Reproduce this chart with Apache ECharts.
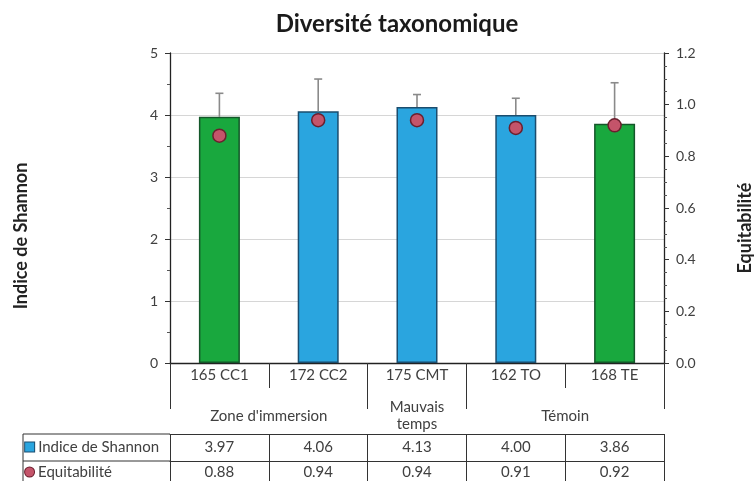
<!DOCTYPE html>
<html>
<head>
<meta charset="utf-8">
<script src="https://cdn.jsdelivr.net/npm/echarts@6/dist/echarts.min.js"></script>
<style>
  html, body { margin: 0; padding: 0; background: #fff; }
  #chart { width: 754px; height: 481px; }
</style>
</head>
<body>
<div id="chart"></div>
<script>
// Stations, grouped by sampling zone
const categories = ['165 CC1', '172 CC2', '175 CMT', '162 TO', '168 TE'];
const shannon = [3.97, 4.06, 4.13, 4.00, 3.86];
const shannonSD = [0.38, 0.52, 0.20, 0.27, 0.66];
const equitability = [0.88, 0.94, 0.94, 0.91, 0.92];
// Groups: label and the span of stations they cover [first, last]
const groupLabels = ["Zone d'immersion", 'Mauvais\ntemps', 'Témoin'];
const groupSpans = [[0, 1], [2, 2], [3, 4]];
const shannonTicks = [0, 1, 2, 3, 4, 5];
const equitTicks = [0, 0.2, 0.4, 0.6, 0.8, 1.0, 1.2];

const FONT = 'Lato, "Open Sans", sans-serif';
const TXT = '#404040';
const GREEN = { fill: '#19a83e', border: '#14572a' };
const BLUE = { fill: '#2aa5df', border: '#1b4d6e' };
const DOT = { fill: '#c4546a', border: '#6b1f2e' };
const controlStations = new Set(['165 CC1', '168 TE']);

// group centres and group boundaries in station units (0..n)
const groupCenters = groupSpans.map(s => (s[0] + s[1] + 1) / 2);
const boundSet = Array.from(new Set(groupSpans.flatMap(s => [s[0], s[1] + 1])));

const chart = echarts.init(document.getElementById('chart'), null, { renderer: 'canvas' });

const G = { left: 170, right: 90, top: 53, bottom: 118, containLabel: false, outerBoundsMode: 'none' };
const plotBottom = 481 - G.bottom; // 363

// row headers of the data table: legend key + label, left-aligned in the header column
const HEADER_W = 128;
const measureCtx = document.createElement('canvas').getContext('2d');
measureCtx.font = '15px ' + FONT;
function rowHeader(key, text) {
  const pad = Math.max(0, Math.round(HEADER_W - measureCtx.measureText(text).width));
  return { text: '{' + key + '|}{s|}{t|' + text + '}{p|}', pad };
}
function headerRich(pad) {
  return {
    box: { width: 9, height: 9, backgroundColor: BLUE.fill, borderColor: BLUE.border, borderWidth: 1 },
    dot: { width: 9, height: 9, borderRadius: 5, backgroundColor: DOT.fill, borderColor: DOT.border, borderWidth: 1 },
    s: { width: 4 },
    t: { fontSize: 15, color: TXT, fontFamily: FONT },
    p: { width: pad }
  };
}
const hdrShannon = rowHeader('box', 'Indice de Shannon');
const hdrEquit = rowHeader('dot', 'Equitabilité');

const option = {
  animation: false,
  backgroundColor: '#fff',
  textStyle: { fontFamily: FONT },
  title: {
    text: 'Diversité taxonomique',
    left: 392, top: 7, textAlign: 'center',
    textStyle: { fontFamily: FONT, fontSize: 24, fontWeight: 'bold', color: '#1a1a1a' }
  },
  grid: G,
  xAxis: [
    {
      type: 'category', data: categories, position: 'bottom',
      axisLine: { show: true, lineStyle: { color: '#222', width: 1.3 } },
      axisTick: { show: true, length: 25, lineStyle: { color: '#333' } },
      axisLabel: { color: TXT, fontSize: 15, margin: 12, verticalAlign: 'middle', fontFamily: FONT }
    },
    {
      // group row under the station names
      type: 'value', min: 0, max: categories.length, position: 'bottom', offset: 25,
      axisLine: { show: false },
      splitLine: { show: false },
      axisTick: { show: true, length: 46, customValues: boundSet, lineStyle: { color: '#333' } },
      axisLabel: {
        customValues: groupCenters, color: TXT, fontSize: 15, margin: 28,
        verticalAlign: 'middle', lineHeight: 17, fontFamily: FONT,
        formatter: v => { const i = groupCenters.indexOf(v); return i >= 0 ? groupLabels[i] : ''; }
      }
    },
    {
      // data table: Shannon row
      type: 'category', data: shannon.map(v => v.toFixed(2)), position: 'bottom', offset: 71,
      axisLine: { show: true, lineStyle: { color: '#333' } },
      axisTick: { show: true, length: 27, lineStyle: { color: '#333' } },
      axisLabel: { color: TXT, fontSize: 15, margin: 13, verticalAlign: 'middle', fontFamily: FONT },
      name: hdrShannon.text, nameLocation: 'start', nameGap: 4,
      nameTextStyle: { fontSize: 15, padding: [26, 0, 0, 0], rich: headerRich(hdrShannon.pad) }
    },
    {
      // data table: equitability row
      type: 'category', data: equitability.map(v => v.toFixed(2)), position: 'bottom', offset: 98,
      axisLine: { show: true, lineStyle: { color: '#333' } },
      axisTick: { show: true, length: 30, lineStyle: { color: '#333' } },
      axisLabel: { color: TXT, fontSize: 15, margin: 11, verticalAlign: 'middle', fontFamily: FONT },
      name: hdrEquit.text, nameLocation: 'start', nameGap: 4,
      nameTextStyle: { fontSize: 15, padding: [22, 0, 0, 0], rich: headerRich(hdrEquit.pad) }
    }
  ],
  yAxis: [
    {
      type: 'value', min: shannonTicks[0], max: shannonTicks[shannonTicks.length - 1], interval: 1,
      axisLine: { show: true, lineStyle: { color: '#222', width: 1.3 } },
      axisTick: { show: true, length: 5, lineStyle: { color: '#333' } },
      minorTick: { show: true, splitNumber: 2, length: 3, lineStyle: { color: '#555' } },
      splitLine: { show: true, lineStyle: { color: '#d6d6d6', width: 1 } },
      axisLabel: { color: TXT, fontSize: 14, margin: 12, fontFamily: FONT },
      name: 'Indice de Shannon', nameLocation: 'middle', nameRotate: 90, nameGap: 140,
      nameTextStyle: { color: '#222', fontSize: 18, fontWeight: 'bold', fontFamily: FONT, padding: [0, 56, 0, 0] }
    },
    {
      type: 'value', min: equitTicks[0], max: equitTicks[equitTicks.length - 1], interval: 0.2,
      position: 'right',
      axisLine: { show: true, lineStyle: { color: '#222', width: 1.3 } },
      axisTick: { show: true, length: 5, lineStyle: { color: '#333' } },
      minorTick: { show: true, splitNumber: 4, length: 3, lineStyle: { color: '#555' } },
      splitLine: { show: false },
      axisLabel: { color: TXT, fontSize: 14, margin: 12, fontFamily: FONT, formatter: v => v.toFixed(1) },
      name: 'Equitabilité', nameLocation: 'middle', nameRotate: 90, nameGap: 72,
      nameTextStyle: { color: '#222', fontSize: 18, fontWeight: 'bold', fontFamily: FONT, padding: [0, 40, 0, 0] }
    }
  ],
  series: [
    {
      name: 'Indice de Shannon', type: 'bar', xAxisIndex: 0, yAxisIndex: 0, barWidth: 41,
      data: shannon.map((v, i) => {
        const c = controlStations.has(categories[i]) ? GREEN : BLUE;
        return { value: v, itemStyle: { color: c.fill, borderColor: c.border, borderWidth: 1.5 } };
      }),
      z: 2
    },
    {
      name: 'erreur', type: 'custom', xAxisIndex: 0, yAxisIndex: 0,
      data: shannon.map((v, i) => [i, v, v + shannonSD[i]]),
      renderItem: (params, api) => {
        const lo = api.coord([api.value(0), api.value(1)]);
        const hi = api.coord([api.value(0), api.value(2)]);
        const cap = 4;
        const style = { stroke: '#8a8a8a', lineWidth: 1.6 };
        return {
          type: 'group',
          children: [
            { type: 'line', shape: { x1: lo[0], y1: lo[1], x2: hi[0], y2: hi[1] }, style },
            { type: 'line', shape: { x1: hi[0] - cap, y1: hi[1], x2: hi[0] + cap, y2: hi[1] }, style }
          ]
        };
      },
      z: 3
    },
    {
      name: 'Equitabilité', type: 'scatter', xAxisIndex: 0, yAxisIndex: 1,
      data: equitability, symbol: 'circle', symbolSize: 13,
      itemStyle: { color: DOT.fill, borderColor: DOT.border, borderWidth: 1.5, opacity: 1 },
      z: 4
    }
  ],
  graphic: [
    // left column borders of the data table
    { type: 'line', shape: { x1: 23, y1: plotBottom + 71, x2: 170, y2: plotBottom + 71 }, style: { stroke: '#333', lineWidth: 1 } },
    { type: 'line', shape: { x1: 23, y1: plotBottom + 98, x2: 170, y2: plotBottom + 98 }, style: { stroke: '#333', lineWidth: 1 } },
    { type: 'line', shape: { x1: 23, y1: plotBottom + 71, x2: 23, y2: 481 }, style: { stroke: '#333', lineWidth: 1 } }
  ]
};

chart.setOption(option);
</script>
</body>
</html>
